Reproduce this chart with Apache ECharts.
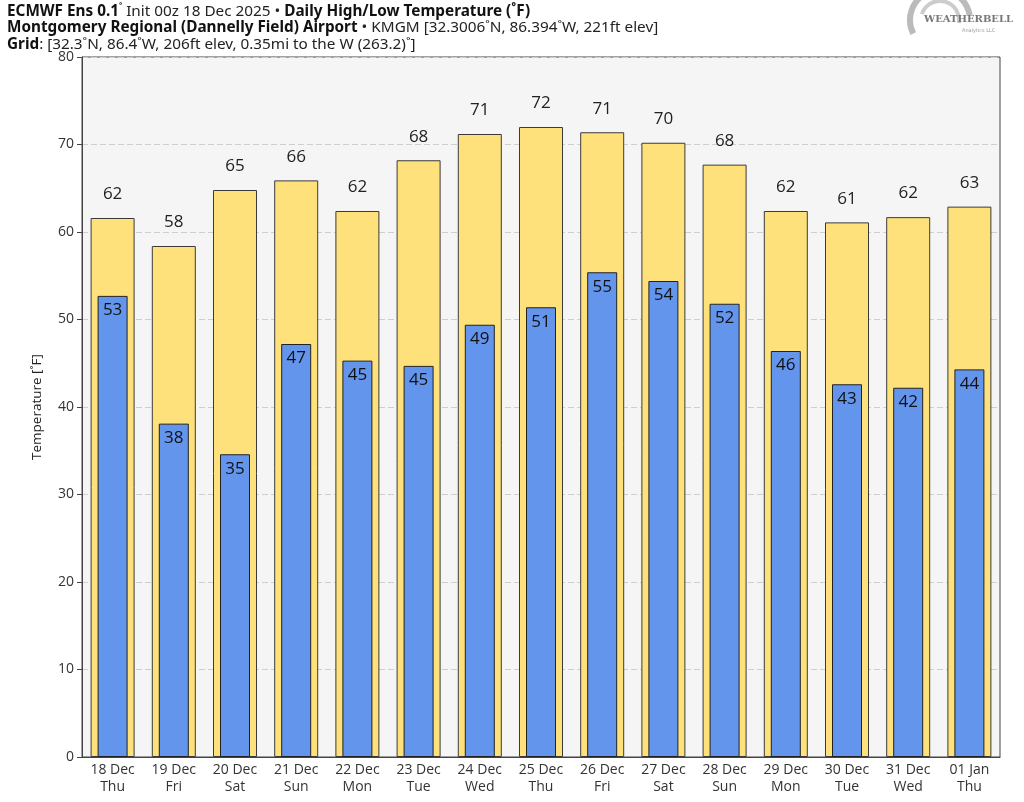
<!DOCTYPE html>
<html><head><meta charset="utf-8">
<script src="https://cdn.jsdelivr.net/npm/echarts@6/dist/echarts.min.js"></script>
<style>html,body{margin:0;padding:0;background:#fff}#c{width:1024px;height:802px}</style>
</head><body><div id="c"></div>
<script>
const dates = ['18 Dec','19 Dec','20 Dec','21 Dec','22 Dec','23 Dec','24 Dec','25 Dec','26 Dec','27 Dec','28 Dec','29 Dec','30 Dec','31 Dec','01 Jan'];
const days = ['Thu','Fri','Sat','Sun','Mon','Tue','Wed','Thu','Fri','Sat','Sun','Mon','Tue','Wed','Thu'];
const highs = [61.6,58.4,64.8,65.9,62.4,68.2,71.2,72.0,71.4,70.2,67.7,62.4,61.1,61.7,62.9];
const lows = [52.7,38.1,34.6,47.2,45.3,44.7,49.4,51.4,55.4,54.4,51.8,46.4,42.6,42.2,44.3];
const yTicks = [0,10,20,30,40,50,60,70,80];

const categories = dates.map((d,i)=>d+'\n'+days[i]);
const tf = '"Noto Sans","Open Sans",sans-serif';
const chart = echarts.init(document.getElementById('c'));
chart.setOption({
  animation:false,
  backgroundColor:'#fff',
  title:{
    left:2, top:-2,
    text:'{b|ECMWF Ens 0.1}{s|˚}{n| Init 00z 18 Dec 2025 • }{b|Daily High/Low Temperature (˚F)}\n{b|Montgomery Regional (Dannelly Field) Airport}{n| • KMGM [32.3006˚N, 86.394˚W, 221ft elev]}\n{b|Grid}{n|: [32.3˚N, 86.4˚W, 206ft elev, 0.35mi to the W (263.2)˚]}',
    textStyle:{
      rich:{
        b:{fontFamily:tf,fontWeight:'bold',fontSize:15.3,color:'#111',lineHeight:16.5},
        n:{fontFamily:tf,fontWeight:'normal',fontSize:15.3,color:'#222',lineHeight:16.5},
        s:{fontFamily:tf,fontSize:10,color:'#222',verticalAlign:'top',lineHeight:16.5}
      }
    }
  },
  grid:{left:82,right:24,top:57,bottom:45,show:true,backgroundColor:'#f5f5f5',borderColor:'#444',borderWidth:1},
  xAxis:[{
    type:'category',data:categories,
    axisLine:{show:true,lineStyle:{color:'#444'}},
    axisTick:{show:false},
    axisLabel:{fontFamily:'Open Sans',fontSize:14,color:'#333',lineHeight:17,margin:5,interval:0}
  },{
    type:'category',data:categories,show:false
  }],
  yAxis:{
    type:'value',min:0,max:80,interval:10,
    name:'Temperature [˚F]',nameLocation:'middle',nameGap:38,
    nameTextStyle:{fontFamily:'Open Sans',fontSize:13.5,color:'#222'},
    axisLine:{show:true,lineStyle:{color:'#444'}},
    axisTick:{show:true,length:5,lineStyle:{color:'#444'}},
    axisLabel:{fontFamily:'Open Sans',fontSize:14,color:'#333',margin:8,
      formatter:v=>yTicks.includes(v)?String(v):''},
    splitLine:{show:true,lineStyle:{color:'#cfcfcf',type:[6,3]}}
  },
  series:[{
    type:'bar',xAxisIndex:0,data:highs,barWidth:44,
    itemStyle:{color:'#FEE17A',borderColor:'#3a3a3a',borderWidth:1},
    label:{show:true,position:'top',distance:15,fontFamily:'Open Sans',fontSize:17,color:'#222',
      formatter:p=>Math.round(p.value)},
    z:2
  },{
    type:'bar',xAxisIndex:1,data:lows,barWidth:30,
    itemStyle:{color:'#6495ED',borderColor:'#222',borderWidth:1},
    label:{show:true,position:'insideTop',distance:6,fontFamily:'Open Sans',fontSize:17,color:'#111',
      formatter:p=>Math.round(p.value)},
    z:3
  }],
  graphic:[
    {type:'arc',shape:{cx:940,cy:20,r:30,startAngle:Math.PI*0.85,endAngle:Math.PI*1.95},style:{stroke:'#bbb',lineWidth:6,fill:null}},
    {type:'arc',shape:{cx:940,cy:20,r:19,startAngle:Math.PI*1.1,endAngle:Math.PI*2.05},style:{stroke:'#ccc',lineWidth:4,fill:null}},
    {type:'text',left:924,top:14,style:{text:'WEATHERBELL',fontFamily:'DejaVu Serif',fontSize:10,fontWeight:'bold',fill:'#777'}},
    {type:'text',left:962,top:28,style:{text:'Analytics LLC',fontFamily:'DejaVu Sans',fontSize:5,fill:'#999'}}
  ]
});
</script></body></html>
